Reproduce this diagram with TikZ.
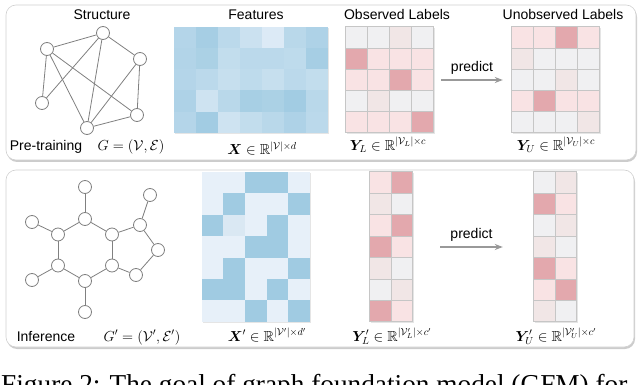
\RequirePackage{fix-cm}
\documentclass[tikz,border=0pt]{standalone}
\usepackage{amsmath,amssymb}
\usepackage{fontspec}
\setmainfont{Liberation Sans}
\newfontfamily\capfont{Liberation Serif}
\usepackage{bm}
\usetikzlibrary{arrows.meta, positioning, shadows}

\definecolor{blueD}{RGB}{160,203,226}
\definecolor{blueL}{RGB}{231,240,249}
\definecolor{blueS}{RGB}{218,232,243}
\definecolor{lblD}{RGB}{227,168,173}
\definecolor{lblP}{RGB}{249,227,228}
\definecolor{lblG}{RGB}{241,230,230}
\definecolor{lblL}{RGB}{240,240,242}
\definecolor{gridG}{RGB}{198,198,198}

\begin{document}
\begin{tikzpicture}[
    x=1pt, y=-1pt,
    panel/.style={draw=black!18, line width=0.6pt, fill=white, rounded corners=10pt, inner sep=0pt,
        drop shadow={shadow xshift=1pt, shadow yshift=-2pt, opacity=0.4}},
    mat/.style={inner sep=0pt, fill=white, drop shadow={shadow xshift=1pt, shadow yshift=-1pt, opacity=0.2}},
    vtx/.style={circle, draw=black!50, fill=white, line width=0.8pt, minimum size=13pt, inner sep=0pt},
    link/.style={draw=black!50, line width=0.8pt},
    ttl/.style={font=\fontsize{14}{16}\selectfont, inner sep=0pt},
    eq/.style={font=\fontsize{14.5}{16}\selectfont, inner sep=0pt, anchor=base},
    cell/.style={draw=gridG, line width=0.7pt},
    arr/.style={-{Stealth[length=8pt, width=6pt]}, draw=black!40, line width=1.2pt}
]
    \useasboundingbox (0,0) rectangle (640,385);

    % Panels
    \node[panel, minimum width=630pt, minimum height=155pt] (pretrain) at (321,82.5) {};
    \node[panel, minimum width=628pt, minimum height=177pt] (infer) at (320,258.5) {};

    % Titles
    \node[ttl, anchor=base] (tstruct) at (102,20) {Structure};
    \node[ttl, anchor=base] (tfeat) at (256,20) {Features};
    \node[ttl, anchor=base] (tobs) at (397,20) {Observed Labels};
    \node[ttl, anchor=base] (tunobs) at (563,20) {Unobserved Labels};

    % Pre-training graph
    \node[vtx] (s1) at (47,49) {};
    \node[vtx] (s2) at (103,33) {};
    \node[vtx] (s3) at (140,59) {};
    \node[vtx] (s4) at (42,103) {};
    \node[vtx] (s5) at (137,115) {};
    \node[vtx] (s6) at (87,128) {};
    \foreach \a/\b in {s1/s2, s2/s3, s1/s4, s1/s5, s1/s6, s2/s4, s2/s6, s3/s5, s3/s6, s5/s6}
        \draw[link] (\a) -- (\b);

    % Features X
    \node[mat, minimum width=154pt, minimum height=106pt] (feat) at (251,80) {};
    \begin{scope}[shift={(feat.north west)}]
        \foreach \v [count=\k from 0] in {72,92,62,40,15,65,80,
                                          75,85,52,62,62,57,92,
                                          72,62,47,57,47,62,52,
                                          80,35,65,90,85,97,65,
                                          72,97,35,52,65,80,62} {
            \pgfmathtruncatemacro\cx{mod(\k,7)}
            \pgfmathtruncatemacro\ry{\k/7}
            \fill[blueD!\v!blueL] (\cx*22,\ry*21.2) rectangle ++(22,21.2);
        }
    \end{scope}

    % Observed labels Y_L
    \node[mat, minimum width=88pt, minimum height=106pt] (obs) at (390,80) {};
    \begin{scope}[shift={(obs.north west)}]
        \foreach \s [count=\k from 0] in {L,L,G,L, D,P,P,P, P,P,D,P, L,G,L,L, P,P,P,D} {
            \pgfmathtruncatemacro\cx{mod(\k,4)}
            \pgfmathtruncatemacro\ry{\k/4}
            \filldraw[cell, fill=lbl\s] (\cx*22,\ry*21.2) rectangle ++(22,21.2);
        }
    \end{scope}

    % Unobserved labels Y_U
    \node[mat, minimum width=88pt, minimum height=106pt] (unobs) at (556,80) {};
    \begin{scope}[shift={(unobs.north west)}]
        \foreach \s [count=\k from 0] in {P,P,D,P, G,L,L,L, L,L,G,L, P,D,P,P, L,L,L,G} {
            \pgfmathtruncatemacro\cx{mod(\k,4)}
            \pgfmathtruncatemacro\ry{\k/4}
            \filldraw[cell, fill=lbl\s] (\cx*22,\ry*21.2) rectangle ++(22,21.2);
        }
    \end{scope}

    \draw[arr] ([xshift=7pt]obs.east) -- node[ttl, above=5pt] (ptop) {predict} ([xshift=-9pt]unobs.west);

    % Bottom row of the top panel
    \node[ttl, anchor=base] (pre) at (46,151) {Pre-training};
    \node[eq] (gpre) at (131,151) {$G=(\mathcal{V},\mathcal{E})$};
    \node[eq] (xlab) at (262,155) {$\bm{X}\in\mathbb{R}^{|\mathcal{V}|\times d}$};
    \node[eq] (ylab) at (388,150) {$\bm{Y}_{L}\in\mathbb{R}^{|\mathcal{V}_L|\times c}$};
    \node[eq] (yulab) at (556,150) {$\bm{Y}_{U}\in\mathbb{R}^{|\mathcal{V}_U|\times c}$};

    % Inference graph (molecule)
    \node[vtx] (a) at (85,187) {};
    \node[vtx] (b) at (150,195) {};
    \node[vtx] (c) at (32,222) {};
    \node[vtx] (d) at (85,219) {};
    \node[vtx] (e) at (58,234.5) {};
    \node[vtx] (f) at (112,234.5) {};
    \node[vtx] (g) at (140,225) {};
    \node[vtx] (h) at (158,250) {};
    \node[vtx] (i) at (58,265.5) {};
    \node[vtx] (j) at (112,265.5) {};
    \node[vtx] (k) at (136,275) {};
    \node[vtx] (l) at (32,280) {};
    \node[vtx] (m) at (85,281) {};
    \node[vtx] (n) at (85,312) {};
    \foreach \a/\b in {a/d, d/e, d/f, c/e, e/i, i/l, i/m, m/j, j/f, f/g, g/b, g/h, h/k, k/j, m/n}
        \draw[link] (\a) -- (\b);

    % Features X'
    \node[mat, minimum width=108pt, minimum height=150pt] (featp) at (256,247) {};
    \begin{scope}[shift={(featp.north west)}]
        \foreach \s [count=\k from 0] in {L,L,D,D,L, L,D,L,L,D, D,S,L,D,L, L,L,D,D,L,
                                          L,D,L,L,D, D,D,L,D,L, L,L,D,L,D} {
            \pgfmathtruncatemacro\cx{mod(\k,5)}
            \pgfmathtruncatemacro\ry{\k/5}
            \fill[blue\s] (\cx*21.6,\ry*21.43) rectangle ++(21.6,21.43);
        }
    \end{scope}

    % Y'_L
    \node[mat, minimum width=43pt, minimum height=150pt] (obsp) at (391.5,247) {};
    \begin{scope}[shift={(obsp.north west)}]
        \foreach \s [count=\k from 0] in {P,D, G,L, P,D, D,P, G,L, L,G, D,P} {
            \pgfmathtruncatemacro\cx{mod(\k,2)}
            \pgfmathtruncatemacro\ry{\k/2}
            \filldraw[cell, fill=lbl\s] (\cx*21.5,\ry*21.43) rectangle ++(21.5,21.43);
        }
    \end{scope}

    % Y'_U
    \node[mat, minimum width=43pt, minimum height=150pt] (unobsp) at (555.5,247) {};
    \begin{scope}[shift={(unobsp.north west)}]
        \foreach \s [count=\k from 0] in {L,G, D,P, L,G, G,L, D,P, P,D, G,L} {
            \pgfmathtruncatemacro\cx{mod(\k,2)}
            \pgfmathtruncatemacro\ry{\k/2}
            \filldraw[cell, fill=lbl\s] (\cx*21.5,\ry*21.43) rectangle ++(21.5,21.43);
        }
    \end{scope}

    \draw[arr] ([xshift=27pt]obsp.east) -- node[ttl, above=5pt] (pbot) {predict} ([xshift=-31pt]unobsp.west);

    % Bottom row of the lower panel
    \node[ttl, anchor=base] (inf) at (46,341) {Inference};
    \node[eq] (gin) at (142,341) {$G'=(\mathcal{V}',\mathcal{E}')$};
    \node[eq] (xplab) at (267,341) {$\bm{X}'\in\mathbb{R}^{|\mathcal{V}'|\times d'}$};
    \node[eq] (yplab) at (392,341) {$\bm{Y}'_{L}\in\mathbb{R}^{|\mathcal{V}'_L|\times c'}$};
    \node[eq] (yuplab) at (556,341) {$\bm{Y}'_{U}\in\mathbb{R}^{|\mathcal{V}'_U|\times c'}$};

    % Caption (cut off at the bottom edge)
    \node[anchor=base west, inner sep=0pt, font=\capfont\fontsize{27.3}{30}\selectfont] (caption) at (1,393)
        {Figure 2: The goal of graph foundation model (GFM) for};
\end{tikzpicture}
\end{document}
